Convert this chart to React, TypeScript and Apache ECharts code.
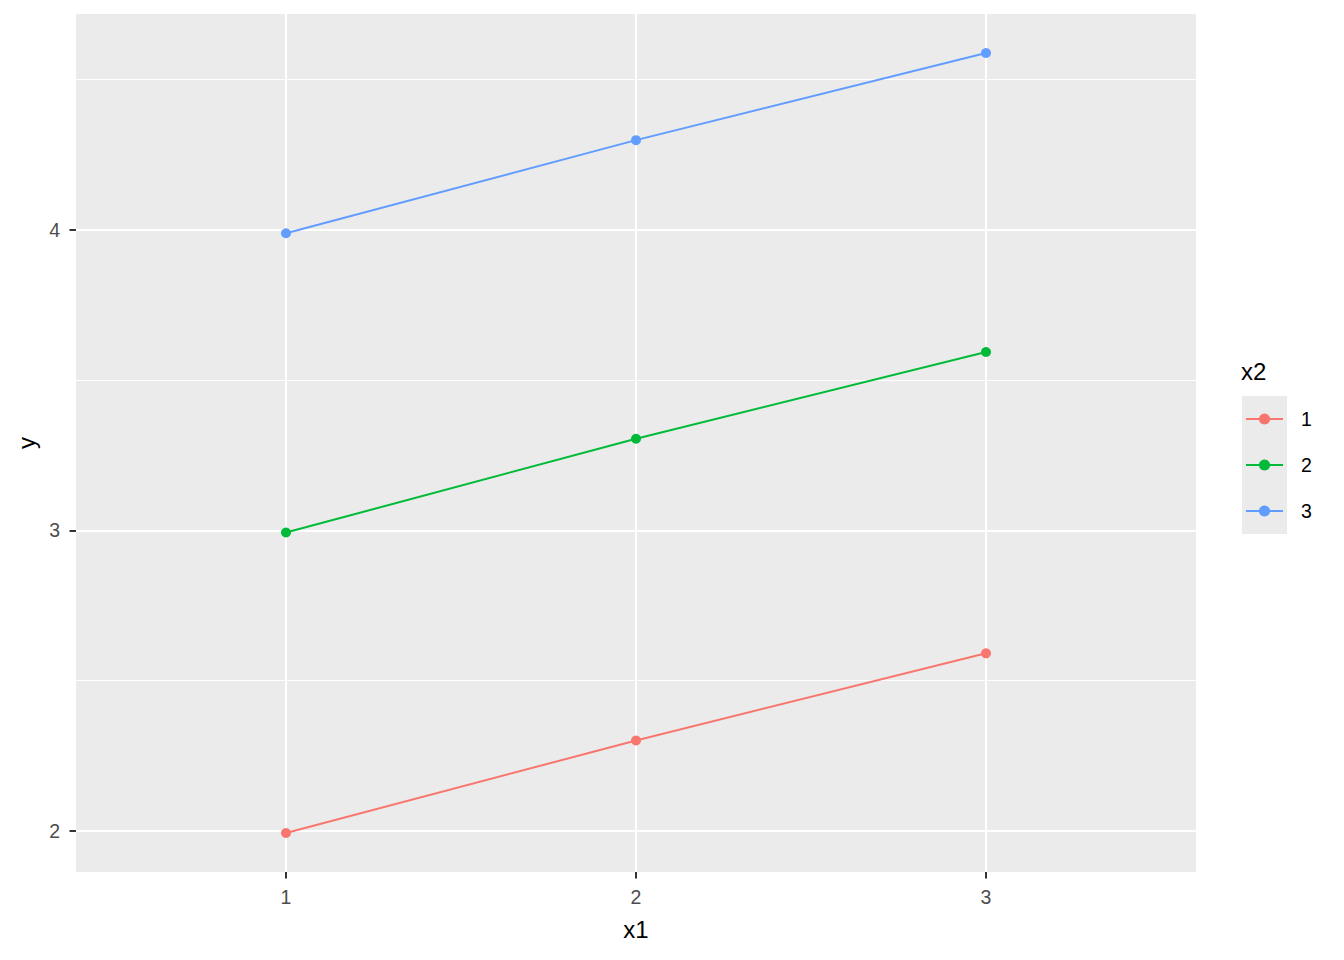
import React, { useEffect, useRef } from "react";
import * as echarts from "echarts";

const x1Values = [1, 2, 3];
const groupNames = ["1", "2", "3"];
const groupColors = ["#F8766D", "#00BA38", "#619CFF"];
const yGroup1 = [1.993, 2.301, 2.591];
const yGroup2 = [2.993, 3.305, 3.594];
const yGroup3 = [3.989, 4.299, 4.589];
const yMajorTicks = [2, 3, 4];
const yMinorTicks = [2.5, 3.5, 4.5];

const allY = [...yGroup1, ...yGroup2, ...yGroup3];
const dMin = Math.min(...allY);
const dMax = Math.max(...allY);
const yMin = dMin - 0.05 * (dMax - dMin);
const yMax = dMax + 0.05 * (dMax - dMin);

const FONT = "'Liberation Sans', Arial, sans-serif";
const TICK_SIZE = 19.5;
const TITLE_SIZE = 24;

export default function App() {
  const ref = useRef<HTMLDivElement>(null);
  useEffect(() => {
    document.body.style.margin = "0";
    const chart = echarts.init(ref.current!, null, { renderer: "svg" });
    const groups = [yGroup1, yGroup2, yGroup3];
    chart.setOption({
      animation: false,
      backgroundColor: "#FFFFFF",
      textStyle: { fontFamily: FONT },
      grid: {
        left: 76,
        top: 14,
        width: 1120,
        height: 858,
        show: true,
        backgroundColor: "#EBEBEB",
        borderWidth: 0,
        containLabel: false,
      },
      xAxis: {
        type: "value",
        min: 0.4,
        max: 3.6,
        name: "x1",
        nameLocation: "middle",
        nameGap: 45,
        nameTextStyle: { fontSize: TITLE_SIZE, color: "#000000", fontFamily: FONT },
        axisLine: { show: false },
        axisTick: {
          show: true,
          customValues: x1Values,
          length: 6.5,
          lineStyle: { color: "#333333", width: 2 },
        },
        axisLabel: {
          customValues: x1Values,
          fontSize: TICK_SIZE,
          color: "#4D4D4D",
          margin: 15,
          fontFamily: FONT,
        },
        splitLine: { show: true, lineStyle: { color: "#FFFFFF", width: 2 } },
      },
      yAxis: [
        {
          type: "value",
          min: yMin,
          max: yMax,
          name: "y",
          nameLocation: "middle",
          nameGap: 34,
          nameRotate: 90,
          nameTextStyle: { fontSize: TITLE_SIZE, color: "#000000", fontFamily: FONT },
          axisLine: { show: false },
          axisTick: {
            show: true,
            customValues: yMajorTicks,
            length: 6.5,
            lineStyle: { color: "#333333", width: 2 },
          },
          axisLabel: {
            customValues: yMajorTicks,
            fontSize: TICK_SIZE,
            color: "#4D4D4D",
            margin: 16,
            fontFamily: FONT,
          },
          splitLine: { show: true, lineStyle: { color: "#FFFFFF", width: 2 } },
        },
        {
          type: "value",
          min: yMin,
          max: yMax,
          position: "left",
          axisLine: { show: false },
          axisTick: { show: false, customValues: yMinorTicks },
          axisLabel: { show: false, customValues: yMinorTicks },
          splitLine: { show: true, lineStyle: { color: "#FFFFFF", width: 1 } },
        },
      ],
      legend: {
        orient: "vertical",
        left: 1245,
        top: 409,
        padding: 0,
        itemWidth: 37,
        itemHeight: 14,
        itemGap: 26,
        textStyle: {
          fontSize: TICK_SIZE,
          color: "#000000",
          fontFamily: FONT,
          padding: [0, 0, 0, 13],
        },
        data: groupNames,
      },
      graphic: [
        {
          type: "rect",
          z: -10,
          shape: { x: 1242, y: 396, width: 45, height: 138 },
          style: { fill: "#EBEBEB" },
        },
        {
          type: "text",
          x: 1241,
          y: 371,
          style: {
            text: "x2",
            fontSize: TITLE_SIZE,
            fill: "#000000",
            fontFamily: FONT,
            verticalAlign: "middle",
            align: "left",
          },
        },
      ],
      series: groups.map((vals, i) => ({
        name: groupNames[i],
        type: "line",
        yAxisIndex: 0,
        data: vals.map((v, j) => [x1Values[j], v]),
        symbol: "circle",
        symbolSize: 10,
        itemStyle: { color: groupColors[i] },
        lineStyle: { color: groupColors[i], width: 2 },
      })),
    });
    return () => chart.dispose();
  }, []);
  return <div ref={ref} style={{ width: 1344, height: 960 }} />;
}
